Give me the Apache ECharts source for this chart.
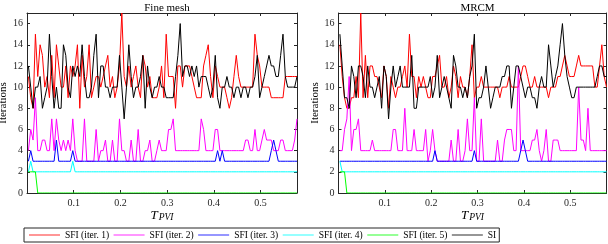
<!DOCTYPE html>
<html><head><meta charset="utf-8">
<script src="https://cdn.jsdelivr.net/npm/echarts@6/dist/echarts.min.js"></script>
<style>html,body{margin:0;padding:0;background:#fff}#c{width:608px;height:244px}</style>
</head><body><div id="c"></div>
<script>
// sample times (T_PVI)
const T = [
0.003,0.008,0.013,0.018,0.023,0.028,0.033,0.038,0.043,0.048,
0.053,0.058,0.063,0.068,0.073,0.078,0.083,0.088,0.093,0.098,
0.103,0.108,0.113,0.118,0.123,0.128,0.133,0.138,0.143,0.148,
0.153,0.158,0.163,0.168,0.173,0.178,0.183,0.188,0.193,0.198,
0.203,0.208,0.213,0.218,0.223,0.228,0.233,0.238,0.243,0.248,
0.253,0.258,0.263,0.268,0.273,0.278,0.283,0.288,0.293,0.298,
0.303,0.308,0.313,0.318,0.323,0.328,0.333,0.338,0.343,0.348,
0.353,0.358,0.363,0.368,0.373,0.378,0.383,0.388,0.393,0.398,
0.403,0.408,0.413,0.418,0.423,0.428,0.433,0.438,0.443,0.448,
0.453,0.458,0.463,0.468,0.473,0.478,0.483,0.488,0.493,0.498,
0.503,0.508,0.513,0.518,0.523,0.528,0.533,0.538,0.543,0.548,
0.553,0.558,0.563,0.568,0.573,0.578];

const names = ['SFI (iter. 1)','SFI (iter. 2)','SFI (iter. 3)','SFI (iter. 4)','SFI (iter. 5)','SI'];
const colors = ['#ff0000','#ff00ff','#0000ff','#00ffff','#00ff00','#000000'];
const yTicks = [0,2,4,6,8,10,12,14,16];
const xTicks = [0.1,0.2,0.3,0.4,0.5];

// Fine mesh
const fmS1 = [11,9,8,15,11,14,13,10,11,9, 13,9,14,12,10,10,12,9,12,11, 12,14,8,13,10,11,14,9,10,11, 11,10,11,12,13,10,11,9,10,12,
 17,11,10,12,10,11,12,10,9,13, 12,10,11,9,9,9,10,12,9,15, 11,11,11,8,12,12,10,12,12,12, 11,10,9,9,9,12,13,14,11,9,
 12,11,10,10,10,9,8,9,11,13, 11,10,10,10,10,10,10,15,13,12, 10,10,10,10,9,9,9,9,9,9, 11,11,11,11,11,11];
const fmS2 = [4,6,5,9,4,4,5,5,4,4, 7,4,7,5,4,5,4,5,4,7, 4,3,3,3,7,3,3,3,3,6, 3,4,4,5,3,3,5,3,3,7,
 4,4,3,3,5,3,3,6,3,3, 4,4,5,3,3,4,5,4,4,4, 6,6,7,4,4,4,4,4,4,4, 4,4,4,4,7,6,4,4,4,4,
 6,6,4,4,4,4,4,4,4,4, 4,4,4,5,5,4,4,6,4,4, 5,6,5,5,5,4,4,4,5,5, 4,4,4,4,5,7];
const fmS3 = [3,4,3,3,3,3,3,3,3,3, 3,3,5,3,3,3,3,3,3,4, 3,3,3,3,3,3,3,3,3,3, 3,3,3,3,3,3,3,3,3,3,
 3,3,3,3,3,3,3,3,3,3, 3,3,3,3,3,3,3,3,3,3, 3,3,3,3,3,3,3,3,3,3, 3,3,3,3,3,3,3,3,3,3,
 3,4,3,4,3,3,3,3,3,3, 3,3,3,3,3,3,3,3,3,3, 3,3,3,3,4,5,4,3,3,3, 3,3,3,3,3,3];
const fmS4 = [2,3,2,2,2,2,2,2,2,2, 2,2,2,2,2,2,2,2,2,3, 2,2,2,2,2,2,2,2,2,2, 2,2,2,2,2,2,2,2,2,2,
 2,2,2,2,2,2,2,2,2,2, 2,2,2,2,2,2,2,2,2,2, 2,2,2,2,2,2,2,2,2,2, 2,2,2,2,2,2,2,2,2,2,
 2,2,2,2,2,2,2,2,2,2, 2,2,2,2,2,2,2,2,2,2, 2,2,2,2,2,2,2,2,2,2, 2,2,2,2,2,2];
const fmS5 = [2,2,2,2,0,0,0,0,0,0, 0,0,0,0,0,0,0,0,0,0, 0,0,0,0,0,0,0,0,0,0, 0,0,0,0,0,0,0,0,0,0,
 0,0,0,0,0,0,0,0,0,0, 0,0,0,0,0,0,0,0,0,0, 0,0,0,0,0,0,0,0,0,0, 0,0,0,0,0,0,0,0,0,0,
 0,0,0,0,0,0,0,0,0,0, 0,0,0,0,0,0,0,0,0,0, 0,0,0,0,0,0,0,0,0,0, 0,0,0,0,0,0];
const fmSI = [12,10,8,10,10,11,8,9,10,15, 11,8,10,8,8,14,13,10,9,12, 11,12,11,14,11,9,9,10,13,15, 9,12,12,10,10,9,10,10,10,13,
 10,7,10,14,11,9,10,10,11,13, 8,12,10,9,10,10,11,10,10,9, 9,9,9,11,13,16,11,12,12,11, 12,11,12,10,11,11,11,10,9,10,
 13,9,8,10,10,11,10,10,9,10, 10,9,10,10,9,10,10,11,13,9, 10,11,12,13,12,12,11,11,13,15, 11,10,10,10,10,11];

// MRCM
const mrS1 = [14,11,9,8,8,9,9,11,9,17, 9,13,9,12,12,11,11,10,9,12, 11,8,11,10,9,10,10,11,12,10, 15,11,11,9,11,10,11,10,9,9,
 11,11,12,13,10,10,11,9,10,12, 11,9,11,10,10,9,11,14,9,10, 10,11,10,10,10,10,10,10,10,9, 10,10,10,11,10,10,10,10,11,12,
 12,11,10,10,11,10,10,10,10,10, 9,10,10,10,11,11,12,13,12,11, 11,11,12,13,12,12,12,12,12,12, 10,10,12,14,11,10];
const mrS2 = [4,4,6,7,11,4,6,6,7,4, 4,4,4,4,5,4,4,4,4,4, 4,4,4,6,6,4,4,4,8,4, 4,4,6,4,4,4,4,6,3,4,
 6,4,3,3,3,3,3,3,5,3, 3,6,3,3,4,7,4,4,9,3, 3,7,3,3,3,3,3,3,5,3, 3,5,6,6,6,4,4,12,4,4,
 4,4,4,5,5,6,4,3,4,6, 3,3,5,5,5,4,4,4,4,4, 4,4,4,10,5,5,4,8,4,4, 4,4,4,4,4,4];
const mrS3 = [3,3,3,3,3,3,3,3,3,3, 3,3,3,3,3,3,3,3,3,3, 3,3,3,3,3,3,3,3,3,3, 3,3,3,3,3,3,3,3,3,3,
 3,4,3,3,3,3,3,3,3,3, 3,3,3,3,3,3,3,3,4,3, 3,3,3,3,3,3,3,3,3,3, 3,3,3,3,3,3,3,3,4,5,
 4,3,3,3,3,3,3,3,3,3, 3,3,3,3,3,3,3,3,3,3, 3,3,3,3,3,3,3,3,3,3, 3,3,3,3,3,3];
const mrS4 = [3,2,2,2,2,2,2,2,2,2, 2,2,2,2,2,2,2,2,2,2, 2,2,2,2,2,2,2,2,2,2, 2,2,2,2,2,2,2,2,2,2,
 2,2,2,2,2,2,2,2,2,2, 2,2,2,2,2,2,2,2,2,2, 2,2,2,2,2,2,2,2,2,2, 2,2,2,2,2,2,2,2,2,2,
 2,2,2,2,2,2,2,2,2,2, 2,2,2,2,2,2,2,2,2,2, 2,2,2,2,2,2,2,2,2,2, 2,2,2,2,2,2];
const mrS5 = [2,2,2,0,0,0,0,0,0,0, 0,0,0,0,0,0,0,0,0,0, 0,0,0,0,0,0,0,0,0,0, 0,0,0,0,0,0,0,0,0,0,
 0,0,0,0,0,0,0,0,0,0, 0,0,0,0,0,0,0,0,0,0, 0,0,0,0,0,0,0,0,0,0, 0,0,0,0,0,0,0,0,0,0,
 0,0,0,0,0,0,0,0,0,0, 0,0,0,0,0,0,0,0,0,0, 0,0,0,0,0,0,0,0,0,0, 0,0,0,0,0,0];
const mrSI = [15,12,9,9,8,12,11,9,12,12, 11,9,12,10,10,9,10,11,8,12, 11,7,10,12,10,11,12,10,10,10, 10,13,8,8,10,10,10,10,10,11,
 9,10,13,9,10,11,10,9,8,13, 12,10,10,9,10,9,11,12,15,8, 9,9,10,12,10,8,9,10,10,10, 11,11,12,12,8,10,12,12,11,10,
 9,10,10,9,9,8,10,11,10,10, 14,12,10,11,12,14,16,13,11,10, 9,9,10,10,10,10,10,10,10,10, 10,11,12,12,11,11];

const panels = [
  {title:'Fine mesh', left:27, width:270, sets:[fmS1,fmS2,fmS3,fmS4,fmS5,fmSI]},
  {title:'MRCM', left:338.5, width:268, sets:[mrS1,mrS2,mrS3,mrS4,mrS5,mrSI]}
];
const FONT = 'Liberation Serif';
const AX = '#262626';
const X_MAX = 0.578, Y_MAX = 17;

const grids = [], xAxes = [], yAxes = [], series = [], titles = [];
panels.forEach((p, g) => {
  grids.push({left:p.left, top:13, width:p.width, height:180, containLabel:false, outerBoundsMode:'none', show:false});
  const baseX = {gridIndex:g, type:'value', min:0, max:X_MAX, interval:0.1, splitLine:{show:false},
    axisLine:{show:true, onZero:false, lineStyle:{color:AX, width:1}},
    axisTick:{show:true, inside:true, length:3, lineStyle:{color:AX, width:1},
      customValues: xTicks}};
  xAxes.push(Object.assign({}, baseX, {position:'bottom',
    axisLabel:{show:true, margin:5, fontFamily:FONT, fontSize:10, color:AX,
      customValues: xTicks, formatter: v => v.toFixed(1)},
    name:'{t|T}{s|PVI}', nameLocation:'middle', nameGap:13, nameMoveOverlap:false,
    nameTextStyle:{rich:{
      t:{fontFamily:FONT, fontStyle:'italic', fontSize:13, lineHeight:16, verticalAlign:'bottom', color:'#000'},
      s:{fontFamily:FONT, fontStyle:'italic', fontSize:9.5, lineHeight:12, verticalAlign:'bottom', padding:[0,0,0,1], color:'#000'}}}}));
  xAxes.push(Object.assign({}, baseX, {position:'top', axisLabel:{show:false}}));
  const baseY = {gridIndex:g, type:'value', min:0, max:Y_MAX, interval:2, splitLine:{show:false},
    axisLine:{show:true, onZero:false, lineStyle:{color:AX, width:1}},
    axisTick:{show:true, inside:true, length:3, lineStyle:{color:AX, width:1}, customValues: yTicks}};
  yAxes.push(Object.assign({}, baseY, {position:'left',
    axisLabel:{show:true, margin:4, fontFamily:FONT, fontSize:10, color:AX, customValues: yTicks},
    name:'Iterations', nameLocation:'middle', nameGap:16,
    nameTextStyle:{fontFamily:FONT, fontSize:11, color:'#000'}}));
  yAxes.push(Object.assign({}, baseY, {position:'right', axisLabel:{show:false}}));
  titles.push({text:p.title, left:p.left + p.width/2, textAlign:'center', top:-2,
    textStyle:{fontFamily:FONT, fontSize:11, fontWeight:'normal', color:'#000'}});
  p.sets.forEach((arr, k) => {
    series.push({name:names[k], type:'line', xAxisIndex:2*g, yAxisIndex:2*g,
      data:T.map((t,i)=>[t, arr[i]]), symbol:'none', showSymbol:false,
      lineStyle:{width:1, color:colors[k]}, itemStyle:{color:colors[k]},
      animation:false, silent:true, z:2+k});
  });
});

const chart = echarts.init(document.getElementById('c'), null, {renderer:'canvas'});
chart.setOption({
  animation:false,
  backgroundColor:'#fff',
  textStyle:{fontFamily:FONT},
  title:titles,
  grid:grids, xAxis:xAxes, yAxis:yAxes, series:series,
  legend:{data:names, left:24, top:228, orient:'horizontal', icon:'rect', itemWidth:31, itemHeight:1.5, itemGap:4.5,
    padding:[1,3,1,5], borderColor:AX, borderWidth:1, borderRadius:0,
    itemStyle:{opacity:0.55},
    textStyle:{fontFamily:FONT, fontSize:9.5, color:'#000', lineHeight:12}}
});
</script></body></html>
